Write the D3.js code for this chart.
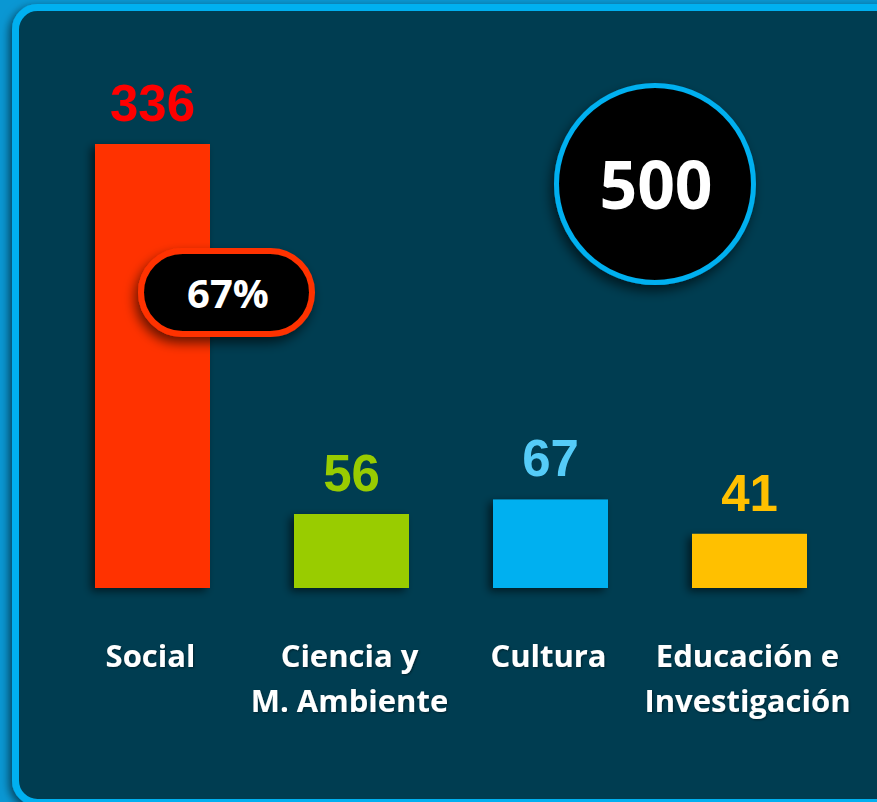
<!DOCTYPE html>
<html>
<head>
<meta charset="utf-8">
<script src="https://cdn.jsdelivr.net/npm/d3@7/dist/d3.min.js"></script>
<style>
html,body{margin:0;padding:0;background:#0a97d3;overflow:hidden;}
svg{display:block;}
</style>
</head>
<body>
<svg id="chart" width="877" height="802"></svg>
<script>
// ---- data ----
const categories = ["Social", "Ciencia y M. Ambiente", "Cultura", "Educación e Investigación"];
const categoryLines = [["Social"], ["Ciencia y", "M. Ambiente"], ["Cultura"], ["Educación e", "Investigación"]];
const values = [336, 56, 67, 41];
const barColors = ["#ff3300", "#99cc00", "#00b0f0", "#ffc000"];
const labelColors = ["#ff0000", "#99cc00", "#55ccf8", "#ffc000"];
const highlightIndex = 0;

const svg = d3.select("#chart");
const W = 877, H = 802;

const defs = svg.append("defs");
const mkShadow = (id, dx, dy, sd, op) => {
  const f = defs.append("filter").attr("id", id)
    .attr("x", "-30%").attr("y", "-30%").attr("width", "160%").attr("height", "160%");
  f.append("feDropShadow").attr("dx", dx).attr("dy", dy).attr("stdDeviation", sd)
    .attr("flood-color", "#000").attr("flood-opacity", op);
};
mkShadow("frameShadow", -3, 3, 4, 0.55);
mkShadow("barShadow", -4, 3, 4, 0.6);
mkShadow("badgeShadow", -3, 6, 6, 0.6);
mkShadow("textShadow", 1, 1, 1, 0.45);

// frame
svg.append("rect")
  .attr("x", 15.5).attr("y", 7.5)
  .attr("width", W + 30).attr("height", 795)
  .attr("rx", 22).attr("ry", 22)
  .attr("fill", "#023c51")
  .attr("stroke", "#00b0f0").attr("stroke-width", 7)
  .attr("filter", "url(#frameShadow)");

// scales
const x = d3.scaleBand().domain(categories).range([95, 807]).paddingInner(84 / 199).paddingOuter(0);
const y = d3.scaleLinear().domain([0, d3.max(values)]).range([588, 144]);

const data = categories.map((c, i) => ({c, v: values[i], color: barColors[i], lc: labelColors[i], lines: categoryLines[i]}));

// bars
svg.append("g").selectAll("rect").data(data).join("rect")
  .attr("x", d => x(d.c)).attr("y", d => y(d.v))
  .attr("width", x.bandwidth()).attr("height", d => y(0) - y(d.v))
  .attr("fill", d => d.color)
  .attr("filter", "url(#barShadow)");

// value labels
svg.append("g").selectAll("text").data(data).join("text")
  .attr("x", d => x(d.c) + x.bandwidth() / 2)
  .attr("y", d => y(d.v) - 23)
  .attr("text-anchor", "middle")
  .attr("font-family", "'Liberation Sans', Arial, sans-serif")
  .attr("font-weight", "bold")
  .attr("font-size", 51)
  .attr("fill", d => d.lc)
  .text(d => d.v);

// category labels
const cat = svg.append("g").selectAll("text").data(data).join("text")
  .attr("text-anchor", "middle")
  .attr("font-family", "'Open Sans', sans-serif")
  .attr("font-weight", "bold")
  .attr("font-size", 31)
  .attr("fill", "#ffffff")
  .attr("filter", "url(#textShadow)");
cat.each(function(d) {
  const t = d3.select(this);
  d.lines.forEach((ln, j) => {
    t.append("tspan")
      .attr("x", x(d.c) + x.bandwidth() / 2 - 2)
      .attr("y", 667 + j * 45)
      .text(ln);
  });
});

// percent pill
const total = d3.sum(values);
const pct = Math.round(values[highlightIndex] / total * 100);
const pill = svg.append("g").attr("filter", "url(#badgeShadow)");
pill.append("rect")
  .attr("x", 141).attr("y", 251).attr("width", 171).attr("height", 83)
  .attr("rx", 41.5).attr("ry", 41.5)
  .attr("fill", "#050505")
  .attr("stroke", barColors[highlightIndex]).attr("stroke-width", 6);
svg.append("text")
  .attr("x", 228).attr("y", 308)
  .attr("text-anchor", "middle")
  .attr("font-family", "'Open Sans', sans-serif")
  .attr("font-weight", "bold")
  .attr("font-size", 40)
  .attr("fill", "#ffffff")
  .text(pct + "%");

// total circle
svg.append("circle")
  .attr("cx", 655).attr("cy", 184).attr("r", 98.5)
  .attr("fill", "#050505")
  .attr("stroke", "#00b0f0").attr("stroke-width", 5)
  .attr("filter", "url(#badgeShadow)");
svg.append("text")
  .attr("x", 656).attr("y", 209)
  .attr("text-anchor", "middle")
  .attr("font-family", "'Open Sans', sans-serif")
  .attr("font-weight", "bold")
  .attr("font-size", 66)
  .attr("fill", "#ffffff")
  .text(total);
</script>
</body>
</html>
